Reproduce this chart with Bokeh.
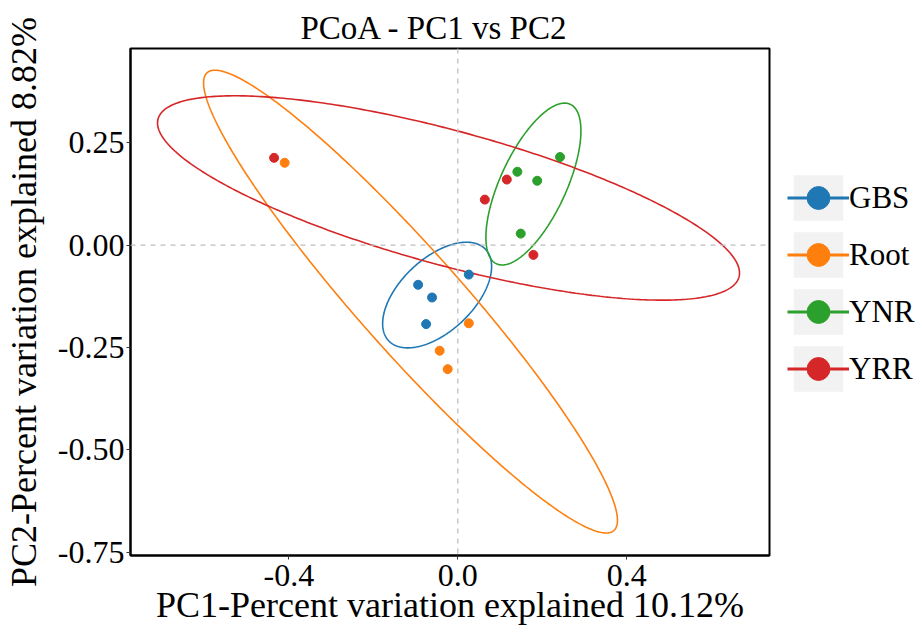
import numpy as np
from bokeh.plotting import figure
from bokeh.layouts import row
from bokeh.models import (FixedTicker, NumeralTickFormatter, Span, Legend, LegendItem,
                          Range1d)
from bokeh.embed import file_html
from bokeh.resources import INLINE

# ---------------- data ----------------
groups = ["GBS", "Root", "YNR", "YRR"]
colors = ["#1F77B4", "#FF7F0E", "#2CA02C", "#D62728"]

gbs_x = [-0.094, -0.061, -0.075, 0.026]
gbs_y = [-0.097, -0.128, -0.193, -0.072]
root_x = [0.026, -0.043, -0.024, -0.410]
root_y = [-0.191, -0.258, -0.303, 0.201]
ynr_x = [0.242, 0.141, 0.188, 0.149]
ynr_y = [0.215, 0.179, 0.157, 0.028]
yrr_x = [0.116, 0.064, 0.179, -0.435]
yrr_y = [0.160, 0.111, -0.024, 0.213]

# ellipse parameters (centre, half-extents in x and y, correlation) per group
ell_cx = [-0.049, -0.112, 0.179, -0.022]
ell_cy = [-0.122, -0.138, 0.149, 0.115]
ell_sx = [0.129, 0.490, 0.1125, 0.689]
ell_sy = [0.129, 0.565, 0.1976, 0.2495]
ell_rho = [0.54, -0.945, 0.657, -0.734]

x_ticks = [-0.4, 0.0, 0.4]
y_ticks = [0.25, 0.0, -0.25, -0.5, -0.75]

pts_x = [gbs_x, root_x, ynr_x, yrr_x]
pts_y = [gbs_y, root_y, ynr_y, yrr_y]

FONT = "Liberation Serif"

p = figure(width=771, height=629, output_backend="svg", toolbar_location=None,
           x_range=Range1d(-0.775, 0.738), y_range=Range1d(-0.758, 0.480),
           min_border_left=127, min_border_right=2, min_border_top=48,
           min_border_bottom=74, title="PCoA - PC1 vs PC2")

p.title.text_font = FONT
p.title.text_font_size = "33px"
p.title.text_font_style = "normal"
p.title.text_color = "black"
p.title.align = "left"
p.title.offset = 170
p.title.standoff = 6

p.xgrid.visible = False
p.ygrid.visible = False
p.outline_line_color = "black"
p.outline_line_width = 2
p.background_fill_color = "white"

for ax in (p.xaxis[0], p.yaxis[0]):
    ax.axis_line_color = "black"
    ax.axis_line_width = 2
    ax.major_tick_line_color = "#333333"
    ax.major_tick_line_width = 1
    ax.major_tick_out = 4
    ax.major_tick_in = 0
    ax.minor_tick_line_color = None
    ax.major_label_text_font = FONT
    ax.major_label_text_font_size = "32px"
    ax.major_label_text_color = "black"
    ax.axis_label_text_font = FONT
    ax.axis_label_text_font_size = "36px"
    ax.axis_label_text_font_style = "normal"
    ax.axis_label_text_color = "black"

p.xaxis.ticker = FixedTicker(ticks=x_ticks)
p.yaxis.ticker = FixedTicker(ticks=y_ticks)
p.xaxis.formatter = NumeralTickFormatter(format="0.0")
p.yaxis.formatter = NumeralTickFormatter(format="0.00")
p.xaxis.axis_label = "PC1-Percent variation explained 10.12%"
p.yaxis.axis_label = "PC2-Percent variation explained 8.82%"
p.xaxis.major_label_standoff = 5
p.yaxis.major_label_standoff = 2
p.xaxis.axis_label_standoff = -4
p.yaxis.axis_label_standoff = 11

p.add_layout(Span(location=0, dimension="height", line_color="#BEBEBE",
                  line_dash="5 5", line_width=1.3))
p.add_layout(Span(location=0, dimension="width", line_color="#BEBEBE",
                  line_dash="5 5", line_width=1.3))

t = np.linspace(0, 2 * np.pi, 400)
for i, g in enumerate(groups):
    c = colors[i]
    ex = ell_cx[i] + ell_sx[i] * np.cos(t)
    ey = ell_cy[i] + ell_sy[i] * (ell_rho[i] * np.cos(t) + np.sqrt(1 - ell_rho[i] ** 2) * np.sin(t))
    p.line(ex, ey, line_color=c, line_width=1.6)

for i, g in enumerate(groups):
    c = colors[i]
    p.scatter(pts_x[i], pts_y[i], size=9, fill_color=c, line_color=c)

# ---------------- legend (separate panel to the right) ----------------
lg = figure(width=145, height=629, output_backend="svg", toolbar_location=None,
            x_axis_type=None, y_axis_type=None, x_range=Range1d(0, 1), y_range=Range1d(0, 1),
            min_border=0, min_border_left=0, min_border_right=0,
            min_border_top=0, min_border_bottom=0)
lg.outline_line_color = None
lg.xgrid.visible = False
lg.ygrid.visible = False

nan1 = np.array([np.nan])
nan2 = np.array([np.nan, np.nan])
items = []
for i, g in enumerate(groups):
    c = colors[i]
    bg = lg.quad(left=nan1, right=nan1, top=nan1, bottom=nan1,
                 fill_color="#F2F2F2", line_color=None)
    ln = lg.line(x=nan2, y=nan2, line_color=c, line_width=3)
    mk = lg.scatter(x=nan1, y=nan1, fill_color=c, line_color=c, marker="circle")
    items.append(LegendItem(label=g, renderers=[bg, ln, mk]))

legend = Legend(items=items, location=(16, 158), glyph_width=62, glyph_height=57,
                spacing=0, label_standoff=0, padding=0, margin=0,
                border_line_color=None, background_fill_alpha=0,
                label_text_font=FONT, label_text_font_size="31px",
                label_text_color="black")
lg.add_layout(legend, "center")

layout = row(p, lg, spacing=0)
open("out.html", "w").write(file_html(layout, INLINE))
